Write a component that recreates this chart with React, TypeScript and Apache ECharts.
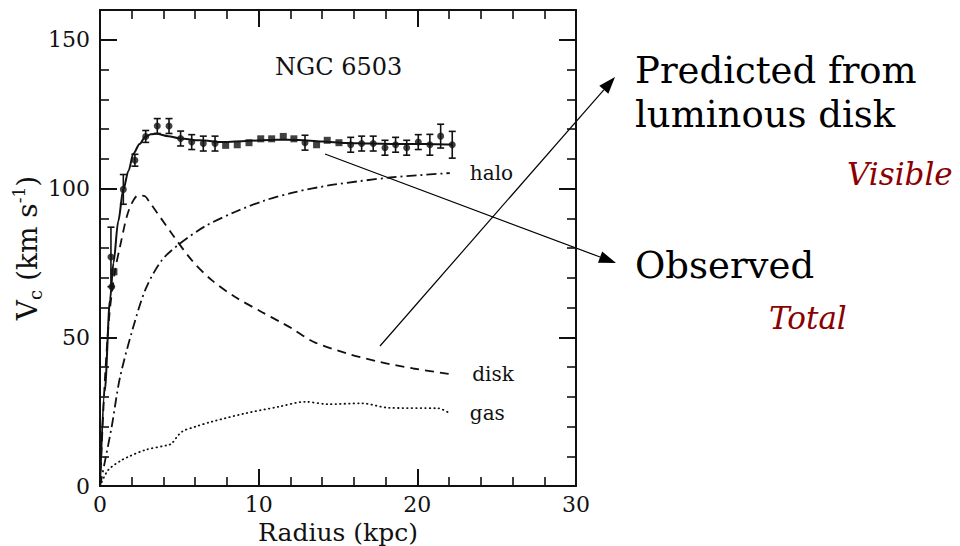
import React, { useEffect, useRef } from "react";
import * as echarts from "echarts";

// Observed rotation curve (Radius kpc, Vc km/s, error km/s, marker shape)
const obsR = [0.69, 0.74, 0.88, 1.47, 2.2, 2.88, 3.61, 4.35, 5.08, 5.78, 6.51, 7.25, 7.92, 8.65, 9.39, 10.13, 10.82, 11.55, 12.22, 12.92, 13.65, 14.32, 15.06, 15.8, 16.49, 17.22, 17.96, 18.63, 19.33, 20.06, 20.79, 21.47, 22.2];
const obsV = [77, 67, 72, 99.7, 109.5, 117.5, 121, 121, 116.8, 115.6, 115.1, 115.1, 114.5, 114.7, 115.4, 116.7, 116.7, 117.5, 116.7, 115.4, 114.7, 116.2, 115.4, 114.7, 115.1, 115.1, 113.7, 114.7, 113.7, 115.6, 114.7, 117.6, 114.7];
const obsErr = [10, 0, 0, 5, 2, 2, 2.5, 2.5, 2.5, 2.5, 2.5, 2.5, 0, 0, 0, 0, 0, 0, 0, 2.5, 0, 0, 0, 2.5, 2.5, 2.5, 2.5, 2.5, 2.5, 2.5, 3.5, 4, 4.5];
const obsShape = ["c", "c", "s", "c", "c", "c", "c", "c", "c", "c", "c", "c", "s", "s", "s", "s", "s", "s", "s", "c", "s", "s", "s", "c", "c", "c", "c", "c", "c", "c", "c", "c", "c"];

// Model fit (total)
const totR = [0, 0.3, 0.63, 0.85, 1.15, 1.47, 1.8, 2.1, 2.5, 2.84, 3.2, 3.57, 4.3, 5.04, 6.3, 7.77, 9.24, 11.13, 12.5, 14.0, 15.5, 17.0, 18.5, 20.0, 21.2, 22.2];
const totV = [0, 32, 62.5, 75, 89, 99.7, 106, 111.7, 115, 117.3, 118.2, 118.4, 117.6, 116.8, 116.2, 115.6, 116, 116.4, 116.3, 115.8, 115.3, 115.1, 115, 115, 114.9, 114.8];

// Disk component
const diskR = [0, 0.3, 0.6, 0.95, 1.26, 1.68, 2.0, 2.41, 2.84, 3.05, 4.52, 5.78, 7.04, 8.5, 10.19, 11.34, 12.08, 13.44, 15.54, 17.64, 19.74, 21.85, 22.2];
const diskV = [0, 35, 58, 72.5, 80.4, 90.4, 95, 97.7, 97.4, 96, 84.9, 75.9, 69.2, 63.6, 58.5, 55.2, 53.0, 48.5, 44.6, 41.7, 39.5, 37.8, 37.5];

// Halo component
const haloR = [0, 0.3, 0.74, 1.26, 2.1, 2.9, 3.9, 5.04, 6.62, 8.5, 10.4, 12.3, 14.5, 16.4, 18.3, 20.2, 22.05];
const haloV = [0, 8, 20, 36.5, 53.5, 66.5, 75.9, 81.5, 87.3, 92.1, 96, 98.8, 101.1, 102.5, 103.7, 104.5, 105.2];

// Gas component
const gasR = [0, 0.52, 1.37, 1.78, 2.84, 4.31, 4.52, 5.15, 5.99, 7.04, 9.14, 11.23, 12.92, 14.39, 16.49, 18.17, 21.32, 22.05];
const gasV = [0, 5.4, 8.7, 9.8, 12.1, 13.8, 14.3, 18.2, 19.9, 21.6, 24.4, 26.6, 28.3, 27.5, 27.8, 26.3, 26.1, 24.4];

const xTicks = { min: 0, max: 30, interval: 10 };
const yTicks = { min: 0, max: 160, interval: 50 };

const INK = "#111";
const RED = "#8b0000";
const SERIF = "DejaVu Serif";

function arrowEls(x1: number, y1: number, x2: number, y2: number) {
  const len = 17, half = 6;
  const dx = x2 - x1, dy = y2 - y1;
  const d = Math.hypot(dx, dy);
  const ux = dx / d, uy = dy / d;
  const bx = x2 - ux * len, by = y2 - uy * len;
  const nx = -uy, ny = ux;
  return [
    { type: "line", shape: { x1, y1, x2: bx, y2: by }, style: { stroke: "#000", lineWidth: 1.2 } },
    {
      type: "polygon",
      shape: { points: [[x2, y2], [bx + nx * half, by + ny * half], [bx - nx * half, by - ny * half]] },
      style: { fill: "#000" },
    },
  ];
}

export default function App() {
  const ref = useRef<HTMLDivElement>(null);
  useEffect(() => {
    const chart = echarts.init(ref.current!, null, { renderer: "svg" });
    const zip = (a: number[], b: number[]) => a.map((v, i) => [v, b[i]]);
    const frameX = (pos: "bottom" | "top", labels: boolean) => ({
      type: "value",
      position: pos,
      ...xTicks,
      axisLine: { show: true, onZero: false, lineStyle: { color: INK, width: 2 } },
      axisTick: { show: true, inside: true, length: 17, lineStyle: { color: INK, width: 2 } },
      minorTick: { show: true, splitNumber: 5, length: 9, lineStyle: { color: INK, width: 1.6 } },
      splitLine: { show: false },
      minorSplitLine: { show: false },
      axisLabel: { show: labels, color: INK, fontFamily: SERIF, fontSize: 22, margin: 7 },
    });
    const frameY = (pos: "left" | "right", labels: boolean) => ({
      type: "value",
      position: pos,
      ...yTicks,
      axisLine: { show: true, onZero: false, lineStyle: { color: INK, width: 2 } },
      axisTick: { show: true, inside: true, length: 17, lineStyle: { color: INK, width: 2 } },
      minorTick: { show: true, splitNumber: 5, length: 9, lineStyle: { color: INK, width: 1.6 } },
      splitLine: { show: false },
      minorSplitLine: { show: false },
      axisLabel: { show: labels, color: INK, fontFamily: SERIF, fontSize: 22, margin: 10, showMaxLabel: false },
    });
    const lineBase = { type: "line", showSymbol: false, symbol: "none", silent: true, xAxisIndex: 0, yAxisIndex: 0 };
    const endLab = (t: string) => ({
      show: true,
      formatter: t,
      distance: 20,
      fontFamily: SERIF,
      fontSize: 20,
      color: INK,
    });
    const obsIdx = obsR.map((_, i) => i);
    const option: any = {
      animation: false,
      backgroundColor: "#fff",
      grid: { left: 100, top: 10, width: 476, height: 476, containLabel: false, outerBoundsMode: "none" },
      xAxis: [
        {
          ...frameX("bottom", true),
          name: "Radius (kpc)",
          nameLocation: "middle",
          nameGap: 29,
          nameTextStyle: { fontFamily: SERIF, fontSize: 25, lineHeight: 25, color: INK },
        },
        frameX("top", false),
      ],
      yAxis: [
        {
          ...frameY("left", true),
          name: "{v|V}{c|c}{t| (km s}{s|-1}{t|)}",
          nameLocation: "middle",
          nameRotate: 90,
          nameGap: 56,
          nameTextStyle: {
            rich: {
              v: { fontFamily: SERIF, fontSize: 28, color: INK, lineHeight: 34 },
              t: { fontFamily: SERIF, fontSize: 28, color: INK, lineHeight: 34 },
              c: { fontFamily: SERIF, fontSize: 18, color: INK, lineHeight: 18, verticalAlign: "bottom" },
              s: { fontFamily: SERIF, fontSize: 17, color: INK, lineHeight: 17, verticalAlign: "top" },
            },
          },
        },
        frameY("right", false),
      ],
      series: [
        { ...lineBase, name: "total", data: zip(totR, totV), smooth: 0.3, smoothMonotone: "x", lineStyle: { color: INK, width: 2 } },
        { ...lineBase, name: "disk", data: zip(diskR, diskV), smooth: 0.3, lineStyle: { color: INK, width: 1.8, type: [9, 6] }, endLabel: endLab("disk") },
        { ...lineBase, name: "halo", data: zip(haloR, haloV), smooth: 0.3, lineStyle: { color: INK, width: 1.8, type: [10, 4, 2, 4] }, endLabel: endLab("halo") },
        { ...lineBase, name: "gas", data: zip(gasR, gasV), smooth: 0.3, lineStyle: { color: INK, width: 1.8, type: [0.5, 4], cap: "round" }, endLabel: endLab("gas") },
        {
          type: "custom",
          name: "err",
          silent: true,
          data: obsIdx.filter((i) => obsErr[i] > 0).map((i) => [obsR[i], obsV[i], obsErr[i]]),
          encode: { x: 0, y: 1 },
          z: 3,
          renderItem: (params: any, api: any) => {
            const x = api.value(0), y = api.value(1), e = api.value(2);
            const t = api.coord([x, y + e]);
            const b = api.coord([x, y - e]);
            const w = 3.5;
            const st = { stroke: INK, lineWidth: 1.6 };
            return {
              type: "group",
              children: [
                { type: "line", shape: { x1: t[0], y1: t[1], x2: b[0], y2: b[1] }, style: st },
                { type: "line", shape: { x1: t[0] - w, y1: t[1], x2: t[0] + w, y2: t[1] }, style: st },
                { type: "line", shape: { x1: b[0] - w, y1: b[1], x2: b[0] + w, y2: b[1] }, style: st },
              ],
            };
          },
        },
        {
          type: "scatter",
          name: "obsCircle",
          silent: true,
          z: 4,
          symbol: "circle",
          symbolSize: 7,
          itemStyle: { color: INK },
          data: obsIdx.filter((i) => obsShape[i] === "c").map((i) => [obsR[i], obsV[i]]),
        },
        {
          type: "scatter",
          name: "obsSquare",
          silent: true,
          z: 4,
          symbol: "rect",
          symbolSize: 7,
          itemStyle: { color: INK },
          data: obsIdx.filter((i) => obsShape[i] === "s").map((i) => [obsR[i], obsV[i]]),
        },
      ],
      graphic: [
        { type: "text", x: 275, y: 66.5, style: { text: "NGC 6503", fontFamily: SERIF, fontSize: 24, fill: INK, verticalAlign: "middle" } },
        { type: "text", x: 635, y: 70, style: { text: "Predicted from", fontFamily: SERIF, fontSize: 37, fill: "#000", verticalAlign: "middle" } },
        { type: "text", x: 635, y: 114, style: { text: "luminous disk", fontFamily: SERIF, fontSize: 37, fill: "#000", verticalAlign: "middle" } },
        { type: "text", x: 635, y: 265, style: { text: "Observed", fontFamily: SERIF, fontSize: 37, fill: "#000", verticalAlign: "middle" } },
        { type: "text", x: 847, y: 173.5, style: { text: "Visible", fontFamily: SERIF, fontStyle: "italic", fontSize: 31, fill: RED, verticalAlign: "middle" } },
        { type: "text", x: 769, y: 317.5, style: { text: "Total", fontFamily: SERIF, fontStyle: "italic", fontSize: 31, fill: RED, verticalAlign: "middle" } },
        ...arrowEls(380, 346, 615, 77),
        ...arrowEls(325, 154, 616, 263),
      ],
    };
    chart.setOption(option);
    return () => chart.dispose();
  }, []);
  return <div ref={ref} style={{ position: "fixed", left: 0, top: 0, width: 960, height: 546, background: "#fff" }} />;
}
